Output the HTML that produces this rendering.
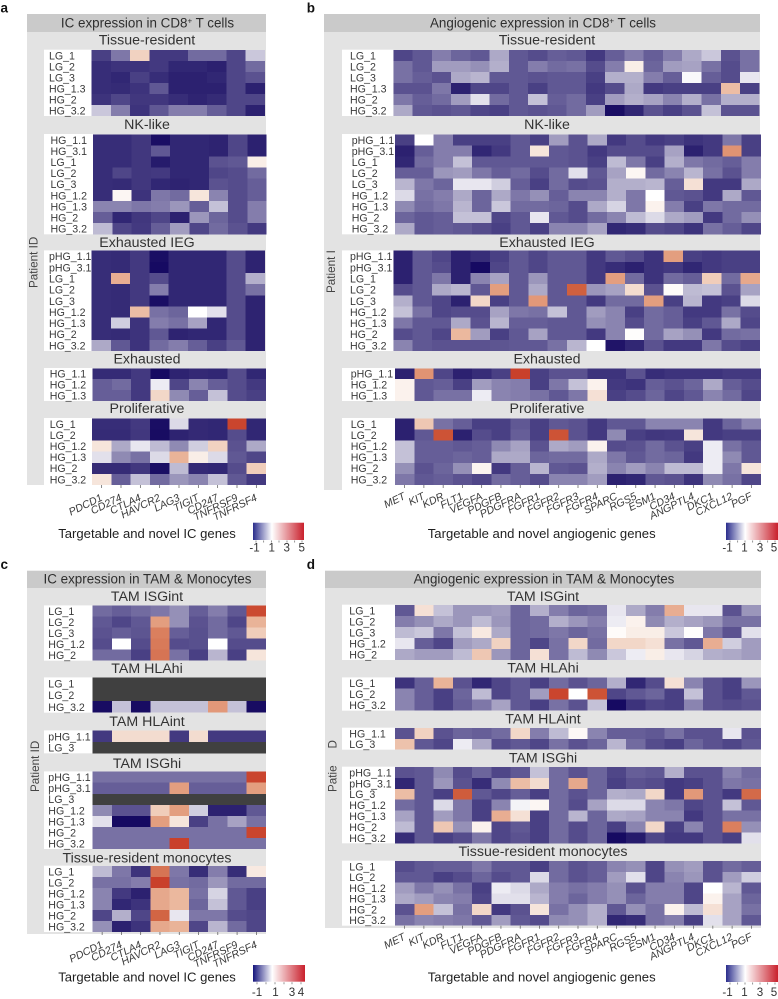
<!DOCTYPE html>
<html lang="en">
<head>
<meta charset="utf-8">
<title>IC and angiogenic expression heatmaps</title>
<style>
html,body{margin:0;padding:0;background:#fff;width:778px;height:999px;overflow:hidden}
svg{display:block;font-family:"Liberation Sans",Arial,sans-serif}
</style>
</head>
<body>
<svg id="figure" xmlns="http://www.w3.org/2000/svg" width="778" height="999" viewBox="0 0 778 999">
<defs>
<linearGradient id="barBlue" x1="0" x2="1" y1="0" y2="0"><stop offset="0" stop-color="#2a2d8c"/><stop offset=".37" stop-color="#ffffff"/><stop offset="1" stop-color="#c9202c"/></linearGradient>
<linearGradient id="barNavy" x1="0" x2="1" y1="0" y2="0"><stop offset="0" stop-color="#14147c"/><stop offset=".37" stop-color="#ffffff"/><stop offset="1" stop-color="#c9202c"/></linearGradient>
</defs>
</svg>
<script>
const icGenes = ["PDCD1","CD274","CTLA4","HAVCR2","LAG3","TIGIT","CD247","TNFRSF9","TNFRSF4"];
const angioGenes = ["MET","KIT","KDR","FLT1","VEGFA","PDGFB","PDGFRA","FGFR1","FGFR2","FGFR3","FGFR4","SPARC","RGS5","ESM1","CD34","ANGPTL4","DKC1","CXCL12","PGF"];
const colorbarTicksABD = ["-1","1","3","5"];
const colorbarTicksC = ["-1","1","3","4"];

// Panel a
const aTissueRows = ["LG_1","LG_2","LG_3","HG_1.3","HG_2","HG_3.2"];
const aTissueValues = [
[-0.55,-0.1,2.0,-0.6,-0.6,-0.2,-0.2,-0.5,0.55],
[-0.7,-0.65,-0.65,-0.6,-0.75,-0.75,-0.8,-0.5,-0.2],
[-0.7,-0.75,-0.55,-0.7,-0.8,-0.8,-0.75,-0.5,-0.4],
[-0.7,-0.72,-0.65,-0.35,-0.8,-0.8,-0.8,-0.5,-0.8],
[-0.65,-0.5,-0.62,-0.62,-0.7,-0.77,-0.72,-0.5,-0.5],
[0.55,-0.05,-0.65,-0.35,-0.05,-0.05,-0.3,-0.5,-0.8]];
const aNkRows = ["HG_1.1","HG_3.1","LG_1","LG_2","LG_3","HG_1.2","HG_1.3","HG_2","HG_3.2"];
const aNkValues = [
[-0.7,-0.7,-0.62,-0.95,-0.75,-0.75,-0.78,-0.5,-0.8],
[-0.7,-0.7,-0.62,-0.35,-0.75,-0.75,-0.78,-0.5,-0.8],
[-0.7,-0.7,-0.62,-0.85,-0.75,-0.75,-0.4,-0.35,1.4],
[-0.7,-0.5,-0.62,-0.6,-0.75,-0.75,-0.5,-0.45,-0.2],
[-0.7,-0.72,-0.62,-0.75,-0.78,-0.75,-0.4,-0.45,-0.3],
[-0.7,1.2,-0.65,-0.1,-0.2,1.6,0,-0.45,-0.3],
[0,0,-0.1,-0.05,0.15,-0.3,0.5,-0.45,-0.05],
[-0.3,-0.75,-0.62,-0.5,-0.8,0.15,-0.25,-0.45,-0.05],
[0.45,-0.5,-0.6,-0.3,0.2,-0.5,-0.2,-0.4,-0.6]];
const aIegRows = ["pHG_1.1","pHG_3.1","LG_1","LG_2","LG_3","HG_1.2","HG_1.3","HG_2","HG_3.2"];
const aIegValues = [
[-0.7,-0.72,-0.6,-0.95,-0.75,-0.75,-0.75,-0.45,-0.78],
[-0.7,-0.72,-0.6,-0.98,-0.75,-0.75,-0.75,-0.45,-0.78],
[-0.7,2.7,-0.6,-0.45,-0.75,-0.75,-0.75,-0.45,0.35],
[-0.7,-0.72,-0.6,-0.05,-0.75,-0.75,-0.75,-0.45,-0.15],
[-0.7,-0.72,-0.6,-0.95,-0.75,-0.75,-0.75,-0.45,-0.78],
[-0.7,-0.72,2.4,-0.15,-0.25,1.0,0.75,-0.45,-0.78],
[-0.7,0.6,-0.65,-0.05,-0.15,0.25,-0.75,-0.45,-0.78],
[-0.7,-0.72,-0.65,-0.35,-0.78,-0.75,-0.75,-0.45,-0.78],
[0.3,-0.35,-0.65,-0.2,-0.05,-0.3,-0.55,-0.35,-0.78]];
const aExhaustedRows = ["HG_1.1","HG_1.2","HG_1.3"];
const aExhaustedValues = [
[-0.72,-0.72,-0.6,-0.98,-0.78,-0.73,-0.75,-0.45,-0.75],
[-0.3,-0.2,-0.6,0.85,-0.5,0,-0.3,-0.45,-0.6],
[-0.3,-0.3,-0.6,1.9,0.05,-0.3,0.5,-0.45,-0.55]];
const aProlifRows = ["LG_1","LG_2","HG_1.2","HG_1.3","HG_2","HG_3.2"];
const aProlifValues = [
[-0.7,-0.7,-0.6,-0.95,0.7,-0.73,-0.75,4.8,-0.75],
[-0.72,-0.72,-0.62,-0.97,-0.78,-0.73,-0.75,-0.45,-0.75],
[1.6,0.3,0.8,0.45,0.05,0.6,2.0,-0.4,0.3],
[0.75,0.05,-0.15,0.7,2.6,1.4,0.7,-0.35,-0.5],
[-0.72,-0.72,-0.62,-0.95,0.45,-0.73,-0.75,-0.45,2.1],
[1.6,-0.3,0.5,-0.2,0.15,0,0.5,-0.35,-0.6]];

// Panel b
const bTissueRows = ["LG_1","LG_2","LG_3","HG_1.3","HG_2","HG_3.2"];
const bTissueValues = [
[-0.5,-0.35,-0.05,-0.25,-0.35,0.3,-0.35,-0.45,-0.3,-0.35,-0.6,-0.3,-0.05,-0.3,-0.05,0.3,0.55,-0.4,-0.15],
[-0.15,-0.35,0.2,0.2,0.1,0.35,-0.35,-0.05,-0.2,-0.15,-0.45,-0.05,1.4,-0.25,0.2,0.25,-0.15,-0.45,-0.15],
[-0.15,-0.3,-0.4,0.3,0.4,-0.35,-0.35,-0.4,-0.35,-0.35,-0.55,0.35,0.35,-0.05,-0.3,0.95,-0.3,-0.45,0.8],
[-0.4,-0.4,-0.1,-0.8,-0.5,-0.5,-0.35,-0.55,-0.35,-0.35,-0.6,-0.45,0.3,-0.6,-0.55,-0.55,-0.55,2.4,-0.55],
[-0.1,-0.3,-0.2,0.2,0.75,-0.2,-0.35,0.5,-0.3,-0.2,-0.55,0.2,0.35,0.25,0,0.35,-0.15,0.35,0.35],
[0.3,-0.35,-0.4,-0.35,-0.5,-0.55,-0.35,-0.4,-0.35,-0.2,0.2,-0.95,-0.75,-0.4,-0.55,-0.4,0.5,-0.4,-0.4]];
const bNkRows = ["pHG_1.1","pHG_3.1","LG_1","LG_2","LG_3","HG_1.2","HG_1.3","HG_2","HG_3.2"];
const bNkValues = [
[-0.55,1.0,-0.05,-0.55,-0.55,-0.55,-0.35,-0.55,0.2,-0.4,0.3,-0.6,-0.45,-0.6,-0.55,-0.65,-0.6,-0.1,-0.55],
[-0.8,-0.3,-0.05,-0.05,-0.75,-0.6,-0.35,1.6,-0.35,-0.4,-0.6,-0.45,-0.45,-0.45,0.25,-0.8,-0.6,3.2,-0.55],
[-0.75,-0.2,-0.05,0.5,-0.35,-0.35,-0.35,-0.35,-0.35,-0.4,-0.55,0.45,-0.1,-0.55,0.35,-0.1,-0.2,-0.3,-0.05],
[-0.3,-0.3,0.15,0.2,-0.1,-0.3,-0.2,-0.45,-0.2,0.75,-0.35,0.25,1.2,-0.2,0,0.4,-0.15,-0.4,-0.05],
[0.4,-0.1,-0.25,0.8,0.8,0.6,-0.3,-0.55,-0.2,-0.45,-0.4,0.35,0.35,0.4,-0.3,1.7,-0.6,-0.6,0.3],
[0.7,-0.15,-0.05,0.3,-0.25,0.3,-0.1,0.1,-0.3,0,0,0.35,-0.1,1.0,-0.35,-0.4,-0.6,0.3,-0.35],
[0.05,-0.2,-0.1,0.4,-0.25,0.55,-0.2,-0.2,-0.25,-0.45,0.3,0.65,-0.1,1.3,-0.05,-0.55,-0.1,-0.2,-0.2],
[-0.25,-0.35,-0.3,0.5,0.5,-0.5,-0.35,0.8,-0.35,-0.45,-0.2,0,0.45,0.7,0.3,0.2,-0.6,-0.2,0.1],
[0.3,-0.35,-0.3,-0.35,-0.45,-0.55,-0.35,-0.55,0,0,0.25,-0.75,-0.7,-0.45,-0.5,-0.65,-0.15,-0.3,-0.5]];
const bIegRows = ["pHG_1.1","pHG_3.1","LG_1","LG_2","LG_3","HG_1.2","HG_1.3","HG_2","HG_3.2"];
const bIegValues = [
[-0.8,-0.35,-0.5,-0.8,-0.7,-0.55,-0.35,-0.5,-0.35,-0.35,-0.6,-0.35,-0.45,-0.65,3.0,-0.55,-0.6,-0.55,-0.55],
[-0.8,-0.35,-0.45,-0.8,-0.98,-0.5,-0.35,-0.5,-0.35,-0.35,-0.6,-0.7,-0.8,-0.65,-0.6,-0.75,-0.6,-0.55,-0.55],
[-0.8,-0.35,-0.1,-0.8,0,0.25,-0.35,0.15,-0.35,-0.35,-0.6,3.0,-0.2,-0.65,-0.2,-0.3,2.1,-0.2,2.8],
[-0.45,-0.35,0.3,0.4,-0.35,3.0,-0.35,0.3,-0.35,4.2,0.15,0.25,1.8,-0.4,1.1,0.45,0.5,-0.4,0.25],
[0.35,-0.35,-0.5,-0.8,1.9,-0.55,-0.35,3.1,-0.35,-0.35,-0.6,-0.2,-0.2,3.0,-0.55,0.4,-0.6,-0.55,0.7],
[0.5,-0.15,-0.5,-0.45,-0.45,0.25,-0.1,-0.15,0.5,-0.35,0.2,0,-0.55,-0.2,-0.3,-0.6,-0.6,-0.15,-0.45],
[-0.1,-0.35,-0.35,0.3,-0.4,0.4,-0.3,-0.3,-0.35,-0.35,0.1,0,-0.45,-0.2,-0.3,-0.55,-0.35,0.3,-0.5],
[-0.45,-0.35,-0.5,2.5,0.2,-0.55,-0.35,0.25,-0.35,-0.35,-0.6,0,1.05,-0.2,0.25,0.1,-0.6,-0.2,-0.15],
[0,-0.35,-0.4,-0.4,-0.4,-0.38,-0.35,-0.35,-0.15,0.4,1.0,-0.9,-0.75,-0.4,-0.6,-0.6,-0.1,-0.45,-0.55]];
const bExhaustedRows = ["pHG_1.1","HG_1.2","HG_1.3"];
const bExhaustedValues = [
[-0.8,3.2,-0.5,-0.8,-0.7,-0.55,4.9,-0.55,-0.4,-0.4,-0.65,-0.65,-0.4,-0.7,-0.65,-0.65,-0.65,-0.6,-0.6],
[1.3,-0.35,-0.3,-0.55,0.2,0,-0.05,-0.55,-0.1,0.5,1.3,-0.6,-0.65,-0.3,-0.4,-0.25,0.3,-0.3,-0.45],
[1.3,-0.35,-0.15,-0.15,0.85,0,-0.05,-0.15,-0.35,-0.1,1.7,-0.55,-0.45,-0.25,-0.5,-0.35,0,-0.2,-0.5]];
const bProlifRows = ["LG_1","LG_2","HG_1.2","HG_1.3","HG_2","HG_3.2"];
const bProlifValues = [
[-0.8,2.2,-0.15,-0.3,-0.55,-0.55,-0.35,-0.55,-0.35,-0.4,-0.6,-0.35,-0.35,0,0,0,-0.6,-0.25,0],
[-0.8,-0.35,4.5,-0.8,-0.45,-0.55,-0.3,-0.55,4.5,-0.4,-0.6,0.05,-0.55,-0.62,-0.6,1.6,-0.6,-0.55,-0.55],
[0.5,-0.3,-0.3,-0.35,-0.3,0.05,0.25,-0.4,0.3,0.2,1.3,-0.45,-0.4,-0.2,-0.4,-0.55,0.85,-0.15,-0.35],
[0.5,-0.3,-0.3,-0.25,-0.3,0.3,0.3,-0.25,-0.2,-0.2,0.3,-0.1,-0.35,-0.2,-0.25,-0.6,0.85,0.05,-0.35],
[0.1,-0.4,-0.25,0.1,1.25,-0.6,-0.3,0.4,-0.35,-0.4,0.35,0,0.2,0,0.45,0.45,0.85,-0.1,1.6],
[-0.1,-0.35,-0.3,-0.4,-0.5,-0.2,-0.3,-0.45,0,0,0.2,-0.8,-0.75,-0.35,-0.4,-0.65,0.05,-0.15,-0.5]];

// Panel c (null = no data, drawn dark grey)
const cIsgintRows = ["LG_1","LG_2","LG_3","HG_1.2","HG_2"];
const cIsgintValues = [
[-0.2,-0.3,-0.2,-0.1,0.1,-0.3,-0.05,-0.35,4.7],
[-0.35,-0.5,-0.35,3.0,0.1,-0.4,-0.2,-0.5,2.6],
[-0.4,-0.3,-0.38,3.6,-0.3,-0.42,-0.2,-0.35,2.1],
[-0.45,1.0,-0.45,3.7,-0.45,-0.42,1.0,-0.45,-0.45],
[-0.2,-0.2,-0.55,3.8,-0.15,-0.55,0.4,-0.55,1.6]];
const cHlahiRows = ["LG_1","LG_2","HG_3.2"];
const cHlahiValues = [
[null,null,null,null,null,null,null,null,null],
[null,null,null,null,null,null,null,null,null],
[-0.97,0.5,-0.97,0.5,0.5,0.5,3.1,0.5,-0.97]];
const cHlaintRows = ["pHG_1.1","LG_3"];
const cHlaintValues = [
[-0.6,1.8,1.8,1.8,-0.6,1.8,-0.6,-0.6,-0.6],
[null,null,null,null,null,null,null,null,null]];
const cIsghiRows = ["pHG_1.1","pHG_3.1","LG_3","HG_1.2","HG_1.3","HG_2","HG_3.2"];
const cIsghiValues = [
[-0.15,-0.15,-0.15,-0.15,-0.15,-0.15,-0.15,-0.15,4.8],
[-0.3,-0.3,-0.3,-0.3,3.0,-0.3,-0.3,-0.3,3.0],
[null,null,null,null,null,null,null,null,null],
[0.05,-0.4,-0.4,2.1,3.0,0.6,-0.8,-0.8,-0.35],
[0.75,-0.98,-0.98,3.0,1.6,-0.55,-0.15,0.25,-0.15],
[-0.15,-0.15,-0.15,-0.15,-0.15,-0.15,-0.15,-0.15,4.8],
[-0.15,-0.15,-0.15,-0.15,4.9,-0.15,-0.15,-0.15,-0.15]];
const cMonoRows = ["LG_1","LG_2","HG_1.2","HG_1.3","HG_2","HG_3.2"];
const cMonoValues = [
[0.45,-0.1,-0.65,3.8,-0.1,-0.7,-0.05,-0.7,1.5],
[-0.15,-0.15,-0.05,4.9,-0.15,-0.2,0.15,-0.2,-0.2],
[0,-0.6,-0.8,2.8,2.5,-0.15,0.65,-0.35,-0.55],
[0,-0.75,-0.65,2.8,2.5,-0.25,0.5,-0.35,-0.55],
[-0.5,0.35,-0.5,4.1,0.8,-0.1,-0.1,-0.45,-0.5],
[0.1,-0.8,-0.65,2.8,2.6,-0.5,0.4,-0.2,-0.5]];

// Panel d
const dIsgintRows = ["LG_1","LG_2","LG_3","HG_1.2","HG_2"];
const dIsgintValues = [
[-0.35,1.7,0.5,0.15,0.15,0.2,-0.25,0.35,-0.05,-0.25,-0.2,0.8,0.3,-0.05,2.7,0.8,0.8,-0.4,0.15],
[-0.05,0.1,0.3,0.15,0.45,0.15,-0.25,-0.2,0.35,0.15,-0.05,0.85,1.3,0.05,0.35,0.25,0.15,-0.15,-0.15],
[0.45,0.55,-0.1,0.5,1.5,0.3,-0.25,-0.2,-0.1,-0.25,-0.15,1.1,1.4,1.4,0.55,1.05,-0.1,-0.4,0.75],
[0.8,-0.3,-0.5,0.2,0.3,2.0,-0.25,-0.5,-0.15,1.9,-0.2,1.9,1.9,1.7,-0.15,-0.35,2.7,0.6,0.2],
[0.3,0.2,0.2,0.45,2.2,0.15,-0.25,1.7,-0.15,0.45,0.05,0.55,0.85,1.4,0.8,0.65,0.35,0.3,0.2]];
const dHlahiRows = ["LG_1","LG_2","HG_3.2"];
const dHlahiValues = [
[-0.65,-0.3,2.6,-0.4,-0.75,-0.5,-0.35,-0.55,-0.2,-0.4,-0.25,0.35,-0.75,-0.45,1.7,0,-0.4,-0.55,0.15],
[0,-0.3,-0.55,-0.25,0.45,-0.5,-0.35,0.2,4.8,1.0,4.5,-0.5,-0.35,-0.25,-0.55,0.5,-0.4,-0.55,-0.35],
[0,-0.3,-0.55,-0.3,-0.1,0.25,-0.35,-0.55,-0.15,-0.4,0.5,-0.98,-0.65,-0.5,-0.55,0,-0.4,-0.45,-0.4]];
const dHlaintRows = ["HG_1.1","LG_3"];
const dHlaintValues = [
[-0.4,2.0,-0.4,-0.25,-0.3,-0.2,1.9,-0.05,0.45,1.15,0,-0.3,-0.3,-0.35,-0.15,-0.4,-0.4,0.8,-0.4],
[2.3,-0.35,-0.5,0.85,0.3,-0.45,-0.35,-0.5,-0.15,-0.4,-0.25,0.4,-0.2,-0.45,-0.55,-0.25,-0.4,-0.5,-0.35]];
const dIsghiRows = ["pHG_1.1","pHG_3.1","LG_3","HG_1.2","HG_1.3","HG_2","HG_3.2"];
const dIsghiValues = [
[-0.4,-0.35,0.05,-0.45,-0.25,-0.5,-0.35,0.5,-0.2,-0.4,-0.25,-0.5,-0.3,-0.35,0.35,-0.4,-0.4,0,-0.2],
[-0.75,-0.35,0.15,-0.4,-0.7,0.05,2.4,1.8,-0.2,2.8,-0.25,-0.55,-0.4,-0.45,-0.6,-0.55,-0.4,-0.1,-0.15],
[2.4,-0.35,-0.55,4.3,-0.35,-0.5,-0.3,-0.55,-0.2,-0.4,-0.25,0.35,0.3,1.9,-0.6,3.1,-0.4,-0.6,4.0],
[-0.2,-0.35,0.7,-0.1,-0.55,0,0.9,1.2,-0.2,-0.45,0.25,0.7,0.7,0,-0.1,-0.5,-0.4,0.5,-0.35],
[0.25,-0.35,0.2,-0.1,-0.55,2.7,1.7,-0.55,-0.2,0.4,-0.25,0.3,0.25,0,0,-0.6,-0.4,-0.15,-0.15],
[0.45,-0.35,2.2,0.1,1.3,-0.5,-0.35,-0.55,-0.2,-0.45,-0.25,-0.55,0,1.9,-0.55,0,-0.4,3.6,0.1],
[-0.7,-0.35,-0.55,-0.45,-0.1,-0.5,-0.4,-0.55,-0.2,-0.45,-0.25,-0.98,-0.85,-0.5,-0.6,-0.6,-0.4,-0.55,0.75]];
const dMonoRows = ["LG_1","LG_2","HG_1.2","HG_1.3","HG_2","HG_3.2"];
const dMonoValues = [
[-0.45,-0.35,-0.3,-0.3,-0.1,-0.35,-0.35,-0.55,-0.2,-0.4,-0.3,0,0.1,-0.5,0.1,0.2,-0.4,-0.2,-0.3],
[-0.35,-0.35,-0.55,-0.45,-0.25,-0.45,-0.35,0.7,-0.2,-0.4,-0.3,0.2,0.75,-0.5,0,0.15,-0.4,0.2,0.6],
[0.2,-0.1,0.1,-0.15,-0.55,0.85,0.7,0.3,-0.05,-0.15,-0.05,0.1,-0.4,-0.05,-0.05,-0.5,1.0,0.4,-0.35],
[0.3,0.2,0,-0.05,-0.5,0.75,0.75,0.4,-0.05,-0.25,-0.05,0.1,-0.25,-0.05,-0.05,-0.5,1.3,0.25,-0.25],
[-0.4,3.0,0.5,-0.15,1.9,-0.6,-0.4,1.6,-0.15,0.1,0.35,-0.35,0.1,-0.15,1.3,0.45,1.7,0.25,-0.15],
[-0.15,0,-0.05,-0.1,-0.35,0.2,-0.35,-0.45,0.05,0.1,0.35,-0.75,-0.7,-0.15,-0.05,-0.55,0.75,0.25,-0.35]];

const svg = document.getElementById('figure');
const NS = 'http://www.w3.org/2000/svg';
const INK = '#3a3a3a';
const BAND = '#e3e3e3';

function make(tag, attrs, parent, content) {
  const node = document.createElementNS(NS, tag);
  for (const k in attrs) node.setAttribute(k, attrs[k]);
  if (content !== undefined) node.textContent = content;
  parent.appendChild(node);
  return node;
}

const colorStops = [
  [-1, [20, 8, 96]], [1, [255, 255, 255]], [1.8, [243, 220, 207]],
  [2.5, [235, 184, 158]], [3.2, [224, 147, 115]], [4.2, [208, 96, 63]], [5, [200, 60, 40]]
];
function colorScale(v) {
  if (v === null) return '#404040';
  const c = Math.max(-1, Math.min(5, v));
  for (let i = 1; i < colorStops.length; i++) {
    if (c <= colorStops[i][0]) {
      const a = colorStops[i - 1], b = colorStops[i];
      const t = (c - a[0]) / (b[0] - a[0]);
      const rgb = a[1].map((x, j) => Math.round(x + (b[1][j] - x) * t));
      return 'rgb(' + rgb.join(',') + ')';
    }
  }
  return 'rgb(200,60,40)';
}
function bandScale(start, end, count) {
  const step = (end - start) / count;
  return { at: i => start + i * step, mid: i => start + (i + 0.5) * step, step: step };
}

function drawPanelFrame(p) {
  const g = make('g', {}, svg);
  
  
  const letter = make('text', { x: p.letterX, y: p.letterY, 'font-size': 13.5, 'font-weight': 'bold', fill: '#111' }, g, p.letter);
  
  
  const bg = make('rect', { x: p.x0, y: p.headerBottom, width: p.x1 - p.x0, height: p.bottom - p.headerBottom, fill: BAND }, g);
  
  
  const head = make('rect', { x: p.x0, y: p.headerTop, width: p.x1 - p.x0, height: p.headerBottom - p.headerTop, fill: '#cacaca' }, g);
  
  
  const title = make('text', { x: (p.x0 + p.x1) / 2 + 1, y: p.headerBottom - 4.6, 'text-anchor': 'middle', 'font-size': 13.4, fill: '#2e2e2e' }, g);
  
  
  const parts = p.title.split('+');
  make('tspan', {}, title, parts[0]);
  if (parts.length > 1) {
    make('tspan', { dy: -4, 'font-size': 8 }, title, '+');
    make('tspan', { dy: 4 }, title, parts[1]);
  }
  p.yLabels.forEach(function (yl) {
    const t = make('text', { transform: 'translate(' + yl.x + ',' + yl.y + ') rotate(-90)', 'font-size': 11.7, fill: '#444' }, g, yl.text);
    
    
  });
  return g;
}

function drawGroup(parent, g0) {
  const g = make('g', {}, parent);
  
  
  const title = make('text', { x: g0.titleX, y: g0.titleY + 5, 'text-anchor': 'middle', 'font-size': 14.2, fill: '#333' }, g, g0.title);
  
  
  const labelBox = make('rect', { x: g0.boxX, y: g0.y0 - 0.3, width: g0.x0 - g0.boxX, height: g0.y1 - g0.y0 + 0.3, fill: '#fff' }, g);
  
  
  const xs = bandScale(g0.x0, g0.x1, g0.genes.length);
  const ys = bandScale(g0.y0, g0.y1, g0.rows.length);
  g0.rows.forEach(function (row, r) {
    const label = make('text', { x: g0.labelX, y: ys.mid(r) + 3.9, 'font-size': 10.6, fill: INK }, g, row);
    
    
    g0.values[r].forEach(function (value, c) {
      const cell = make('rect', { x: xs.at(c), y: ys.at(r), width: xs.step, height: ys.step, fill: colorScale(value), 'shape-rendering': 'crispEdges' }, g);
      
      
    });
  });
  if (g0.axis) {
    g0.genes.forEach(function (gene, c) {
      const tx = xs.mid(c);
      const tick = make('line', { x1: tx, x2: tx, y1: g0.y1, y2: g0.y1 + 3, stroke: '#555', 'stroke-width': 0.7 }, g);
      
      
      const lx = tx + 1.5, ly = g0.y1 + g0.axisDrop;
      const t = make('text', { x: lx, y: ly, 'text-anchor': 'end', transform: 'rotate(-26 ' + lx + ' ' + ly + ')', 'font-size': 10.6, 'font-style': 'italic', fill: INK }, g, gene);
      
      
    });
  }
}

function drawColorbar(parent, cb) {
  const g = make('g', {}, parent);
  
  
  const xl = make('text', { x: cb.xlabelX, y: cb.xlabelY, 'text-anchor': 'middle', 'font-size': 13.1, fill: '#1f1f1f' }, g, cb.xlabel);
  
  
  const bar = make('rect', { x: cb.x, y: cb.y, width: cb.w, height: cb.h, fill: cb.fill }, g);
  
  
  cb.tickX.forEach(function (tx) {
    const tick = make('line', { x1: tx, x2: tx, y1: cb.y + cb.h + 0.5, y2: cb.y + cb.h + 2.5, stroke: '#666', 'stroke-width': 0.7 }, g);
    
    
  });
  cb.labels.forEach(function (lab, i) {
    const t = make('text', { x: cb.labelX[i], y: cb.labelY, 'text-anchor': 'middle', 'font-size': 11.6, fill: '#333' }, g, lab);
    
    
  });
}

// Panel a
const panelA = drawPanelFrame({ letter: 'a', letterX: 0.5, letterY: 12.5, x0: 27, x1: 266, headerTop: 14, headerBottom: 32, bottom: 485, title: 'IC expression in CD8+ T cells', yLabels: [{ x: 37.5, y: 288, text: 'Patient ID' }] });
drawGroup(panelA, { title: 'Tissue-resident', titleX: 147, titleY: 39.5, boxX: 44, labelX: 49, genes: icGenes, rows: aTissueRows, values: aTissueValues, x0: 91.7, x1: 265, y0: 50, y1: 116 });
drawGroup(panelA, { title: 'NK-like', titleX: 147, titleY: 124, boxX: 44, labelX: 50.5, genes: icGenes, rows: aNkRows, values: aNkValues, x0: 93, x1: 266.7, y0: 134.3, y1: 234.3 });
drawGroup(panelA, { title: 'Exhausted IEG', titleX: 147, titleY: 242, boxX: 44, labelX: 49, genes: icGenes, rows: aIegRows, values: aIegValues, x0: 91.7, x1: 265, y0: 250.7, y1: 351 });
drawGroup(panelA, { title: 'Exhausted', titleX: 147, titleY: 358.5, boxX: 44, labelX: 49.7, genes: icGenes, rows: aExhaustedRows, values: aExhaustedValues, x0: 92.5, x1: 266, y0: 368.3, y1: 401 });
drawGroup(panelA, { title: 'Proliferative', titleX: 147, titleY: 408, boxX: 44, labelX: 49.7, genes: icGenes, rows: aProlifRows, values: aProlifValues, x0: 92, x1: 266, y0: 418.3, y1: 485, axis: true, axisDrop: 15 });
drawColorbar(panelA, { xlabel: 'Targetable and novel IC genes', xlabelX: 147, xlabelY: 538, x: 253, y: 522.7, w: 51, h: 17.3, fill: 'url(#barBlue)', tickX: [256, 263.7, 271.5, 279, 287, 294.7, 302], labels: colorbarTicksABD, labelX: [254.5, 271.7, 286.7, 301.7], labelY: 551.7 });

// Panel b
const panelB = drawPanelFrame({ letter: 'b', letterX: 306.7, letterY: 12.5, x0: 324, x1: 760, headerTop: 14, headerBottom: 32, bottom: 490, title: 'Angiogenic expression in CD8+ T cells', yLabels: [{ x: 335, y: 293, text: 'Patient I' }] });
const bCover = make('rect', { x: 342, y: 485, width: 418, height: 6, fill: '#fff' }, panelB);


drawGroup(panelB, { title: 'Tissue-resident', titleX: 547, titleY: 39.5, boxX: 342, labelX: 350, genes: angioGenes, rows: bTissueRows, values: bTissueValues, x0: 393.3, x1: 759.3, y0: 50, y1: 116 });
drawGroup(panelB, { title: 'NK-like', titleX: 547, titleY: 124, boxX: 342, labelX: 351.7, genes: angioGenes, rows: bNkRows, values: bNkValues, x0: 395, x1: 761, y0: 134.3, y1: 234.3 });
drawGroup(panelB, { title: 'Exhausted IEG', titleX: 547, titleY: 242, boxX: 342, labelX: 350, genes: angioGenes, rows: bIegRows, values: bIegValues, x0: 393.3, x1: 760, y0: 250.7, y1: 351 });
drawGroup(panelB, { title: 'Exhausted', titleX: 547, titleY: 358.5, boxX: 342, labelX: 350.7, genes: angioGenes, rows: bExhaustedRows, values: bExhaustedValues, x0: 395, x1: 761, y0: 368.3, y1: 401 });
drawGroup(panelB, { title: 'Proliferative', titleX: 547, titleY: 408, boxX: 342, labelX: 350.7, genes: angioGenes, rows: bProlifRows, values: bProlifValues, x0: 395, x1: 761, y0: 418.3, y1: 485, axis: true, axisDrop: 13.5 });
drawColorbar(panelB, { xlabel: 'Targetable and novel angiogenic genes', xlabelX: 541.7, xlabelY: 538, x: 726, y: 522.7, w: 52, h: 17.3, fill: 'url(#barBlue)', tickX: [730, 737.7, 745, 752.7, 760, 767.7, 775], labels: colorbarTicksABD, labelX: [727.5, 744.5, 760, 774], labelY: 551.7 });

// Panel c
const panelC = drawPanelFrame({ letter: 'c', letterX: 0.5, letterY: 569, x0: 27, x1: 266, headerTop: 570.7, headerBottom: 588, bottom: 934, title: 'IC expression in TAM & Monocytes', yLabels: [{ x: 39, y: 792, text: 'Patient ID' }] });
drawGroup(panelC, { title: 'TAM ISGint', titleX: 147, titleY: 596, boxX: 44, labelX: 48.3, genes: icGenes, rows: cIsgintRows, values: cIsgintValues, x0: 92.5, x1: 266, y0: 605.7, y1: 660.7 });
drawGroup(panelC, { title: 'TAM HLAhi', titleX: 147, titleY: 668, boxX: 44, labelX: 48.3, genes: icGenes, rows: cHlahiRows, values: cHlahiValues, x0: 92.5, x1: 266, y0: 677.7, y1: 712.7 });
drawGroup(panelC, { title: 'TAM HLAint', titleX: 147, titleY: 721, boxX: 44, labelX: 48.3, genes: icGenes, rows: cHlaintRows, values: cHlaintValues, x0: 92.5, x1: 266, y0: 730.7, y1: 753.3 });
drawGroup(panelC, { title: 'TAM ISGhi', titleX: 147, titleY: 763, boxX: 44, labelX: 48.3, genes: icGenes, rows: cIsghiRows, values: cIsghiValues, x0: 92.5, x1: 266, y0: 771.7, y1: 849 });
drawGroup(panelC, { title: 'Tissue-resident monocytes', titleX: 147, titleY: 857.7, boxX: 44, labelX: 48.3, genes: icGenes, rows: cMonoRows, values: cMonoValues, x0: 92.5, x1: 266, y0: 866, y1: 932, axis: true, axisDrop: 15 });
drawColorbar(panelC, { xlabel: 'Targetable and novel IC genes', xlabelX: 147, xlabelY: 981.5, x: 253, y: 965, w: 52, h: 16.7, fill: 'url(#barNavy)', tickX: [257, 266, 275, 284, 292, 301], labels: colorbarTicksC, labelX: [257, 275.5, 292, 301], labelY: 996 });

// Panel d
const panelD = drawPanelFrame({ letter: 'd', letterX: 306.7, letterY: 569, x0: 325, x1: 761, headerTop: 570.7, headerBottom: 588, bottom: 928, title: 'Angiogenic expression in TAM & Monocytes', yLabels: [{ x: 336.5, y: 792, text: 'Patie' }, { x: 336.5, y: 748.5, text: 'D' }] });
drawGroup(panelD, { title: 'TAM ISGint', titleX: 543, titleY: 596, boxX: 342, labelX: 349.3, genes: angioGenes, rows: dIsgintRows, values: dIsgintValues, x0: 395, x1: 761, y0: 605, y1: 660 });
drawGroup(panelD, { title: 'TAM HLAhi', titleX: 543, titleY: 667.7, boxX: 342, labelX: 349.3, genes: angioGenes, rows: dHlahiRows, values: dHlahiValues, x0: 395, x1: 761, y0: 677.7, y1: 710.7 });
drawGroup(panelD, { title: 'TAM HLAint', titleX: 543, titleY: 718.5, boxX: 342, labelX: 349.3, genes: angioGenes, rows: dHlaintRows, values: dHlaintValues, x0: 395, x1: 761, y0: 728, y1: 749.7 });
drawGroup(panelD, { title: 'TAM ISGhi', titleX: 543, titleY: 757.3, boxX: 342, labelX: 349.3, genes: angioGenes, rows: dIsghiRows, values: dIsghiValues, x0: 395, x1: 761, y0: 767, y1: 843.3 });
drawGroup(panelD, { title: 'Tissue-resident monocytes', titleX: 543, titleY: 851, boxX: 342, labelX: 349.3, genes: angioGenes, rows: dMonoRows, values: dMonoValues, x0: 395, x1: 761, y0: 861, y1: 925.7, axis: true, axisDrop: 13.5 });
drawColorbar(panelD, { xlabel: 'Targetable and novel angiogenic genes', xlabelX: 541.7, xlabelY: 981.5, x: 726, y: 965, w: 52, h: 17, fill: 'url(#barBlue)', tickX: [730, 737.7, 745, 752.7, 760, 767.7, 775], labels: colorbarTicksABD, labelX: [727.5, 744.5, 760, 774], labelY: 996 });
</script>
</body>
</html>
